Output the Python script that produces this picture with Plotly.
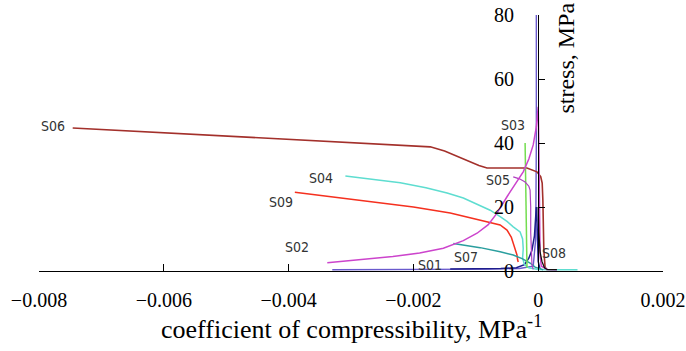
import plotly.graph_objects as go

# ---------------- data ----------------
s06_x = [-7.46e-3, -6.5e-3, -5.5e-3, -4.5e-3, -3.5e-3, -3.0e-3, -2.5e-3, -2.0e-3, -1.73e-3, -1.5e-3,
         -1.3e-3, -1.09e-3, -0.95e-3, -0.82e-3, -0.6e-3, -0.4e-3, -0.18e-3, -0.02e-3, 0.04e-3,
         0.064e-3, 0.075e-3, 0.08e-3, 0.09e-3, 0.11e-3, 0.14e-3]
s06_y = [44.7, 43.7, 42.7, 41.6, 40.6, 40.1, 39.4, 39.0, 38.8, 37.5,
         35.8, 34.2, 33.0, 32.2, 32.1, 32.2, 32.2, 31.0, 29.5,
         27.5, 22.0, 12.8, 6.6, 1.3, 0.3]

s04_x = [-3.09e-3, -2.53e-3, -2.21e-3, -1.8e-3, -1.46e-3, -1.2e-3, -0.88e-3, -0.77e-3, -0.61e-3,
         -0.5e-3, -0.4e-3, -0.29e-3, -0.25e-3, -0.24e-3, -0.25e-3, -0.22e-3, -0.15e-3, 0.0, 0.3e-3, 0.63e-3]
s04_y = [29.7, 28.4, 27.6, 26.0, 24.4, 22.8, 20.1, 19.0, 17.0,
         15.5, 13.8, 12.2, 10.0, 7.0, 4.0, 2.0, 1.0, 0.5, 0.4, 0.4]

s09_x = [-3.9e-3, -3.5e-3, -3.0e-3, -2.49e-3, -2.0e-3, -1.41e-3, -0.93e-3, -0.61e-3, -0.5e-3,
         -0.43e-3, -0.4e-3, -0.36e-3, -0.34e-3, -0.33e-3, -0.32e-3]
s09_y = [24.6, 23.6, 22.4, 21.3, 20.0, 18.1, 15.9, 14.4, 12.8,
         10.5, 8.7, 6.5, 5.0, 3.5, 2.8]

s02_x = [-3.38e-3, -3.0e-3, -2.33e-3, -1.9e-3, -1.52e-3, -1.2e-3, -0.98e-3, -0.8e-3, -0.66e-3,
         -0.5e-3, -0.35e-3, -0.24e-3, -0.15e-3, -0.08e-3, -0.03e-3, 0.0, 0.01e-3, 0.02e-3,
         0.03e-3, 0.05e-3, 0.15e-3, 0.3e-3]
s02_y = [2.6, 3.3, 4.5, 5.6, 7.1, 9.5, 11.8, 14.5, 18.1,
         23.2, 27.5, 31.0, 35.0, 39.4, 45.0, 51.3, 40.0, 20.0,
         5.0, 1.5, 0.5, 0.4]

s05_x = [-0.4e-3, -0.3e-3, -0.21e-3, -0.15e-3, -0.13e-3, -0.12e-3, -0.12e-3, -0.11e-3, -0.1e-3, -0.08e-3]
s05_y = [29.4, 28.8, 27.8, 26.5, 25.3, 20.0, 12.0, 6.0, 2.0, 0.5]

s07_x = [-1.36e-3, -1.1e-3, -0.93e-3, -0.61e-3, -0.4e-3, -0.25e-3, -0.13e-3, -0.05e-3, 0.08e-3]
s07_y = [8.6, 7.8, 7.3, 6.0, 5.0, 3.8, 2.5, 1.2, 0.4]

s03_x = [-0.21e-3, -0.2e-3, -0.195e-3, -0.19e-3, -0.18e-3]
s03_y = [40.0, 30.0, 20.0, 10.0, 1.0]

s01_x = [-1.41e-3, -1.0e-3, -0.6e-3, -0.35e-3, -0.22e-3, -0.15e-3, -0.1e-3, -0.06e-3, -0.04e-3,
         -0.03e-3, -0.02e-3, -0.01e-3, 0.0, 0.03e-3]
s01_y = [0.6, 0.6, 0.8, 1.0, 2.0, 4.0, 6.5, 11.0, 16.0,
         20.0, 16.0, 8.0, 3.0, 0.5]

blue_x = [-3.3e-3, -2.5e-3, -1.5e-3, -0.8e-3, -0.3e-3, -0.08e-3, -0.04e-3, -0.03e-3, -0.03e-3]
blue_y = [0.4, 0.4, 0.5, 0.6, 0.8, 1.5, 10.0, 40.0, 80.0]

s08_x = [0.0, 0.01e-3, 0.03e-3, 0.06e-3, 0.1e-3, 0.15e-3, 0.3e-3]
s08_y = [20.0, 12.0, 6.0, 3.0, 1.0, 0.4, 0.4]

x_ticks = [-0.008, -0.006, -0.004, -0.002, 0, 0.002]
x_ticktext = ["\u22120.008", "\u22120.006", "\u22120.004", "\u22120.002", "0", "0.002"]
y_ticks = [0, 20, 40, 60, 80]

series_labels = ["S06", "S04", "S09", "S02", "S01", "S07", "S05", "S03", "S08"]
label_x = [-7.78e-3, -3.48e-3, -4.12e-3, -3.86e-3, -1.73e-3, -1.15e-3, -0.64e-3, -0.40e-3, 0.26e-3]
label_y = [45.3, 29.1, 21.6, 7.5, 1.9, 4.4, 28.4, 45.6, 5.6]

# ---------------- figure ----------------
fig = go.Figure()

traces = [
    (blue_x, blue_y, "#6A5ACD", 1.4),
    (s01_x, s01_y, "#1E1E8C", 1.5),
    (s06_x, s06_y, "#A3302B", 1.6),
    (s04_x, s04_y, "#5EDDD0", 1.5),
    (s09_x, s09_y, "#F5301F", 1.5),
    (s07_x, s07_y, "#2A9E9E", 1.5),
    (s03_x, s03_y, "#74DD50", 1.5),
    (s05_x, s05_y, "#B040C0", 1.2),
    (s02_x, s02_y, "#CC44CC", 1.5),
    (s08_x, s08_y, "#111111", 1.3),
]
for xs, ys, col, w in traces:
    fig.add_trace(go.Scatter(x=xs, y=ys, mode="lines",
                             line=dict(color=col, width=w), showlegend=False,
                             hoverinfo="skip"))

for t, lx, ly in zip(series_labels, label_x, label_y):
    fig.add_annotation(x=lx, y=ly, text=t, showarrow=False, xanchor="center", yanchor="middle",
                       font=dict(family="Liberation Sans Narrow, DejaVu Sans Condensed, Liberation Sans, sans-serif",
                                 size=14, color="#333333"))

fig.add_annotation(xref="paper", yref="paper", x=0.5, y=-0.222,
                   text="coefficient of compressibility, MPa<sup>-1</sup>", showarrow=False,
                   xanchor="center", yanchor="middle",
                   font=dict(family="Liberation Serif", size=26, color="black"))
fig.add_annotation(xref="paper", yref="paper", x=0.843, y=0.83,
                   text="stress, MPa", showarrow=False, textangle=-90,
                   xanchor="center", yanchor="middle",
                   font=dict(family="Liberation Serif", size=24, color="black"))

fig.update_layout(
    width=686, height=351,
    margin=dict(l=39, r=23, t=15, b=80, autoexpand=False),
    paper_bgcolor="white", plot_bgcolor="white",
    xaxis=dict(range=[-0.008, 0.002], tickvals=x_ticks, ticktext=x_ticktext,
               showgrid=False, zeroline=False, showline=True, linecolor="black", linewidth=1.2,
               ticks="inside", ticklen=7, tickwidth=1.4, tickcolor="black", ticklabelstandoff=11,
               ticklabeloverflow="allow", automargin=False,
               tickfont=dict(family="Liberation Serif", size=20, color="black")),
    yaxis=dict(range=[0, 80], tickvals=y_ticks, anchor="free", position=0.8,
               showgrid=False, zeroline=False, showline=True, linecolor="black", linewidth=1.2,
               ticks="inside", ticklen=6, tickwidth=1.4, tickcolor="black", ticklabelstandoff=20,
               automargin=False,
               tickfont=dict(family="Liberation Serif", size=20, color="black")),
)

fig.write_html("out.html")
